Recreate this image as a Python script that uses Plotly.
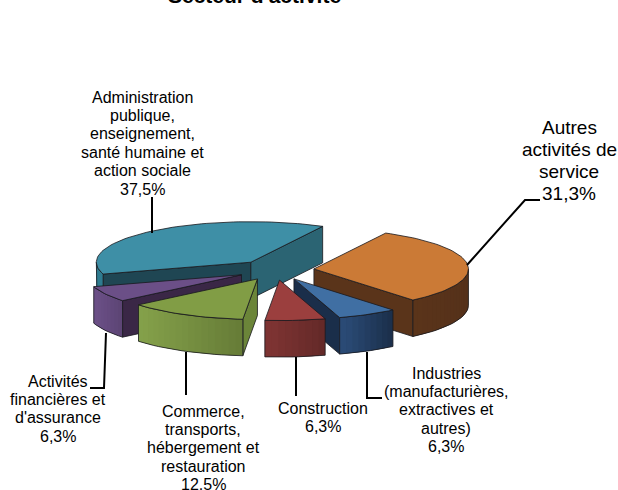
import math
import plotly.graph_objects as go

# ---- data (clockwise from the first slice) ----
sectors = ["Autres", "Industries", "Construction", "Commerce", "Financieres", "Administration"]
shares = [31.3, 6.3, 6.3, 12.5, 6.3, 37.5]
label_lines = [
    ["Autres", "activités de", "service", "31,3%"],
    ["Industries", "(manufacturières,", "extractives et", "autres)", "6,3%"],
    ["Construction", "6,3%"],
    ["Commerce,", "transports,", "hébergement et", "restauration", "12,5%"],
    ["Activités", "financières et", "d'assurance", "6,3%"],
    ["Administration", "publique,", "enseignement,", "santé humaine et", "action sociale", "37,5%"],
]
title_text = "Secteur d'activité"

# ---- styles ----
top_colors = ["#CB7A36", "#406FA3", "#9B3F3E", "#819D45", "#6B4F87", "#3E8FA6"]
arc_left = ["#5A341A", "#2B4C78", "#7F3433", "#84A14A", "#6C5088", "#2F7C90"]
arc_right = ["#55311A", "#1A2D47", "#612827", "#657A36", "#5A4372", "#2F7C90"]
cut_start = ["#5A341A", "#1A2E4A", "#612827", "#6B8539", "#3A2746", "#1F4653"]
cut_end = ["#5A341A", "#1A2E4A", "#612827", "#6B8539", "#3A2746", "#2B6473"]
draw_order = [5, 0, 4, 3, 1, 2]
OUTLINE = "rgba(25,25,30,0.8)"
CX, CY, RX, RY, DEPTH, EXPLODE, FIRST_ANGLE = 275.5, 270.0, 154.5, 40.5, 36.5, 0.25, 27.7
label_boxes = [
    dict(x=569, y=127, step=22, size=19),
    dict(x=446, y=373, step=18.4, size=16),
    dict(x=323, y=408, step=18.4, size=16),
    dict(x=203, y=411, step=18.4, size=16),
    dict(x=58, y=381, step=18.4, size=16),
    dict(x=142, y=97, step=18.4, size=16),
]
leaders = [
    ([540, 525, 467], [200, 200, 265]),
    ([382, 367, 367], [398, 398, 352]),
    ([296, 296], [396, 357]),
    ([186, 186], [395, 352]),
    ([90, 104, 106], [388, 388, 333]),
    ([152, 152], [197, 233]),
]


def hex_rgb(h):
    return [int(h[i:i + 2], 16) for i in (1, 3, 5)]


def mix(a, b, t):
    ca, cb = hex_rgb(a), hex_rgb(b)
    return "rgb(%d,%d,%d)" % tuple(round(p + (q - p) * t) for p, q in zip(ca, cb))


def rim(ox, oy, deg):
    r = math.radians(deg)
    return ox + RX * math.sin(r), oy - RY * math.cos(r)


fig = go.Figure()


def poly(xs, ys, fill=None, line=OUTLINE, width=1):
    fig.add_trace(go.Scatter(
        x=xs, y=ys, mode="lines", fill="toself" if fill else "none", fillcolor=fill,
        line=dict(color=line, width=width), hoverinfo="skip", showlegend=False))


total = sum(shares)
spans, running = [], FIRST_ANGLE
for s in shares:
    spans.append((running, running + s / total * 360))
    running = spans[-1][1]

for i in draw_order:
    a0, a1 = spans[i]
    mid = (a0 + a1) / 2
    ox, oy = rim(CX, CY, mid)
    ox, oy = CX + (ox - CX) * EXPLODE, CY + (oy - CY) * EXPLODE
    mx, my = rim(ox, oy, mid)

    # flat cut faces, when their lower edge is not tucked under the slice
    for ang, col in ((a0, cut_start[i]), (a1, cut_end[i])):
        px, py = rim(ox, oy, ang)
        ex, ey = px - ox, py - oy
        inside = ex * (my - oy) - ey * (mx - ox)
        below = ex
        if inside * below < 0:
            poly([ox, px, px, ox, ox], [oy, py, py + DEPTH, oy + DEPTH, oy], col)

    # curved outer wall, front half only; overlapping strips hide the seams
    lo, hi = max(a0, 90), min(a1, 270)
    if lo < hi:
        n = max(2, int((hi - lo) / 2.5))
        ticks = [lo + (hi - lo) * k / n for k in range(n + 1)]
        pts = [rim(ox, oy, t) for t in ticks]
        xa, xb = min(p[0] for p in pts), max(p[0] for p in pts)
        for k in range(n):
            (x0, y0), (x1, y1) = pts[k], pts[min(k + 2, n)]
            t = ((x0 + x1) / 2 - xa) / max(xb - xa, 1)
            c = mix(arc_left[i], arc_right[i], t)
            poly([x0, x1, x1, x0, x0], [y0, y1, y1 + DEPTH, y0 + DEPTH, y0], c, line="rgba(0,0,0,0)", width=0)
        poly([p[0] for p in pts] + [p[0] for p in pts[::-1]] + [pts[0][0]],
             [p[1] for p in pts] + [p[1] + DEPTH for p in pts[::-1]] + [pts[0][1]])

    # top face
    n = max(4, int((a1 - a0) / 2))
    ring = [rim(ox, oy, a0 + (a1 - a0) * k / n) for k in range(n + 1)]
    poly([ox] + [p[0] for p in ring] + [ox], [oy] + [p[1] for p in ring] + [oy], top_colors[i])

for xs, ys in leaders:
    fig.add_trace(go.Scatter(x=xs, y=ys, mode="lines", line=dict(color="#000000", width=2),
                             hoverinfo="skip", showlegend=False))

annotations = [dict(x=254 / 618, y=1 + 5 / 490, xref="paper", yref="paper", xanchor="center", yanchor="middle",
                    text="<b>%s</b>" % title_text,
                    showarrow=False, font=dict(family="Liberation Sans", size=21, color="#000000"))]
for lines, box in zip(label_lines, label_boxes):
    for k, line in enumerate(lines):
        annotations.append(dict(x=box["x"], y=box["y"] + k * box["step"], xref="x", yref="y",
                                text=line, showarrow=False,
                                font=dict(family="Liberation Sans", size=box["size"], color="#000000")))

fig.update_layout(
    width=618, height=490, margin=dict(l=0, r=0, t=0, b=0),
    paper_bgcolor="#FFFFFF", plot_bgcolor="#FFFFFF", showlegend=False,
    xaxis=dict(range=[0, 618], visible=False, fixedrange=True),
    yaxis=dict(range=[490, 0], visible=False, fixedrange=True),
    annotations=annotations,
)
fig.write_html("out.html", config={"displayModeBar": False},
               post_script="document.body.style.margin='0';document.body.style.overflow='hidden';")
